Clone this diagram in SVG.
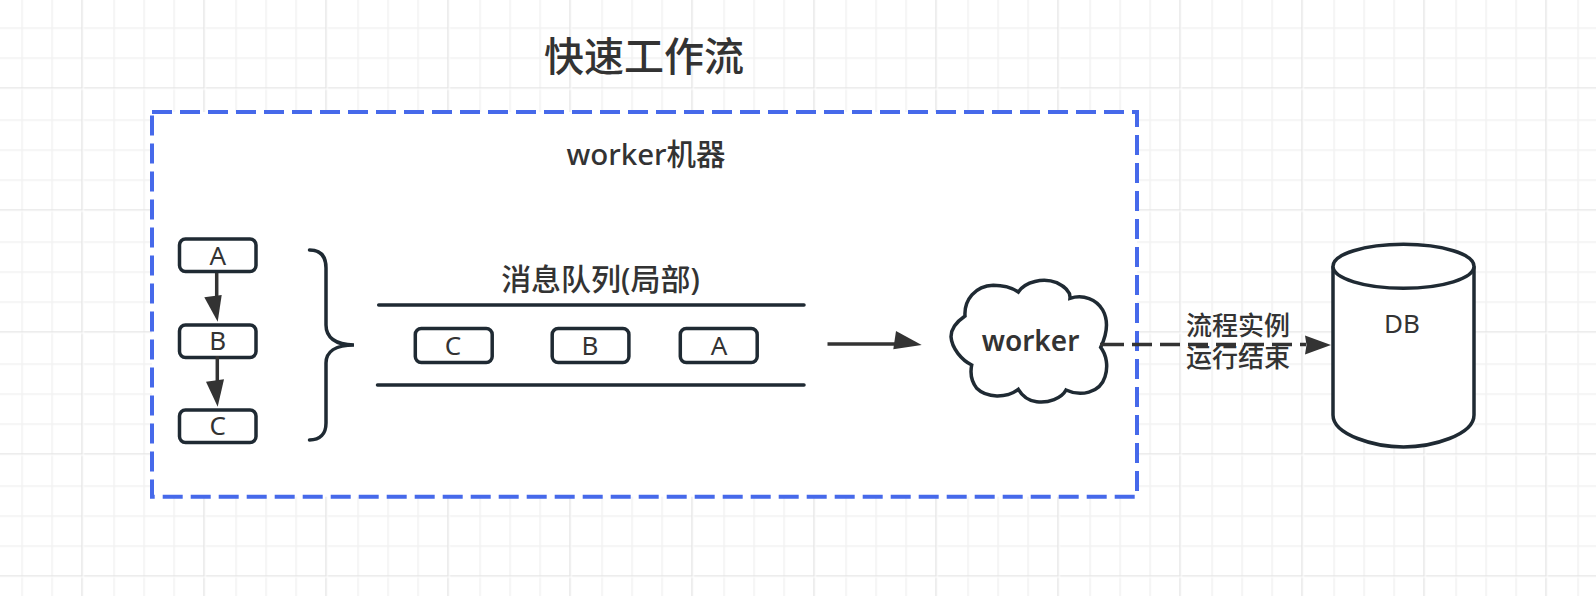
<svg xmlns="http://www.w3.org/2000/svg" width="1596" height="596" viewBox="0 0 1596 596">
<style>
text{font-family:"Noto Sans","Noto Sans CJK SC",sans-serif;fill:#333;text-anchor:middle}
.m{font-weight:500}
.box{fill:#fff;stroke:#1f2a33;stroke-width:3.5}
.ln{fill:none;stroke:#1f2a33;stroke-width:3.5;stroke-linecap:round}
.ar{fill:none;stroke:#333;stroke-width:3.5}
.hd{fill:#333}
.s26{font-size:26px;font-weight:400}
</style>
<defs>
<pattern id="grid" x="-40.7" y="-34.7" width="122" height="122" patternUnits="userSpaceOnUse">
<path d="M32,0h1.6v122h-1.6zM62,0h1.6v122h-1.6zM92,0h1.6v122h-1.6zM0,32h122v1.6h-122zM0,62h122v1.6h-122zM0,92h122v1.6h-122z" fill="#f2f2f2"/>
<path d="M0,0h1.6v122h-1.6zM0,0h122v1.6h-122z" fill="#e5e5e5"/>
<path d="M1.6,0h1v122h-1zM0,1.6h122v1h-122z" fill="#fff"/>
</pattern>
</defs>
<rect id="background" width="1596" height="596" fill="#fff"/>
<rect id="grid-lines" width="1596" height="596" fill="url(#grid)"/>
<text id="title" class="m" x="644" y="71" font-size="40">快速工作流</text>
<g id="worker-machine">
<rect x="152" y="112" width="985" height="384.7" fill="#fff" stroke="#4669ea" stroke-width="4" stroke-dasharray="20 8"/>
<text class="m" x="646" y="165" font-size="29.5">worker机器</text>
</g>
<g id="node-a"><rect class="box" x="179.5" y="239" width="76.5" height="32.6" rx="6"/><text class="s26" x="217.7" y="265">A</text></g>
<g id="node-b"><rect class="box" x="179.5" y="325" width="76.5" height="32.6" rx="6"/><text class="s26" x="217.7" y="350">B</text></g>
<g id="node-c"><rect class="box" x="179.5" y="410" width="76.5" height="32.6" rx="6"/><text class="s26" x="217.7" y="435">C</text></g>
<g id="brace"><path class="ln" d="M309.5,250C320,250 326,256 326,268L326,325C326,337 335,345 354,345C335,345 326,352 326,363L326,423C326,434 320,440 309.5,440"/></g>
<g id="queue">
<text class="m" x="600.5" y="289.5" font-size="30">消息队列(局部)</text>
<path class="ln" d="M378.7,305H804M377.5,385H804"/>
</g>
<g id="queue-c"><rect class="box" x="415.3" y="328.4" width="76.9" height="34.2" rx="6"/><text class="s26" x="452.9" y="354.5">C</text></g>
<g id="queue-b"><rect class="box" x="552.2" y="328.4" width="76.7" height="34.2" rx="6"/><text class="s26" x="590" y="354.5">B</text></g>
<g id="queue-a"><rect class="box" x="680.3" y="328.4" width="76.9" height="34.2" rx="6"/><text class="s26" x="719" y="354.5">A</text></g>
<g id="worker">
<path class="box" d="M965,316C964,300 975,286 993.3,285.3C1003.3,285.3 1012.7,288.3 1018.3,292C1025,281.7 1043.3,277.3 1056.7,282.7C1065,286.7 1070.7,291.7 1070,298.3C1083.3,294 1096.7,299.3 1102.7,310C1108.3,320 1107.3,333.3 1100.7,347.3C1106.7,355 1108.3,366.7 1105,376.7C1100,393.3 1080,396.7 1066,390C1061.7,398.3 1048.3,403.3 1036.7,401.7C1028.3,400.7 1021.7,395 1018.3,389.3C1006.7,398.3 986.7,398.3 976.7,388.3C971.7,381.7 970,373.3 971.7,365C961.7,360 951.7,348.3 951,336.7C951,328.3 956.7,321.7 965,316Z"/>
<text x="1030.5" y="351" font-size="28" font-weight="600">worker</text>
</g>
<g id="db">
<path class="box" d="M1333,266.3V415C1333,435 1375,447 1403.5,447C1432,447 1474,435 1474,415V266.3"/>
<ellipse class="box" cx="1403.5" cy="266.3" rx="70.5" ry="22"/>
<text class="s26" x="1402" y="333.3">DB</text>
</g>
<g id="connectors">
<line class="ar" x1="216.7" y1="273" x2="216.7" y2="300"/>
<polygon class="hd" points="204.3,297.3 221.7,295 217.7,321.7"/>
<line class="ar" x1="217.3" y1="356" x2="217.3" y2="385"/>
<polygon class="hd" points="206,381.7 224,379.3 217.7,406.7"/>
<line class="ar" x1="827.5" y1="344" x2="896" y2="344"/>
<polygon class="hd" points="896,331 921.7,345 893.3,349.3"/>
<line class="ar" x1="1100" y1="344.5" x2="1124" y2="344.5"/>
<line class="ar" stroke-dasharray="20 8" x1="1132" y1="344.5" x2="1306" y2="344.5"/>
<polygon class="hd" points="1305,335.5 1331,345 1305,354.5 1306.5,345"/>
</g>
<g id="connector-label">
<text class="m" x="1238" y="335" font-size="26">流程实例</text>
<text class="m" x="1238" y="366.5" font-size="26">运行结束</text>
</g>
</svg>
